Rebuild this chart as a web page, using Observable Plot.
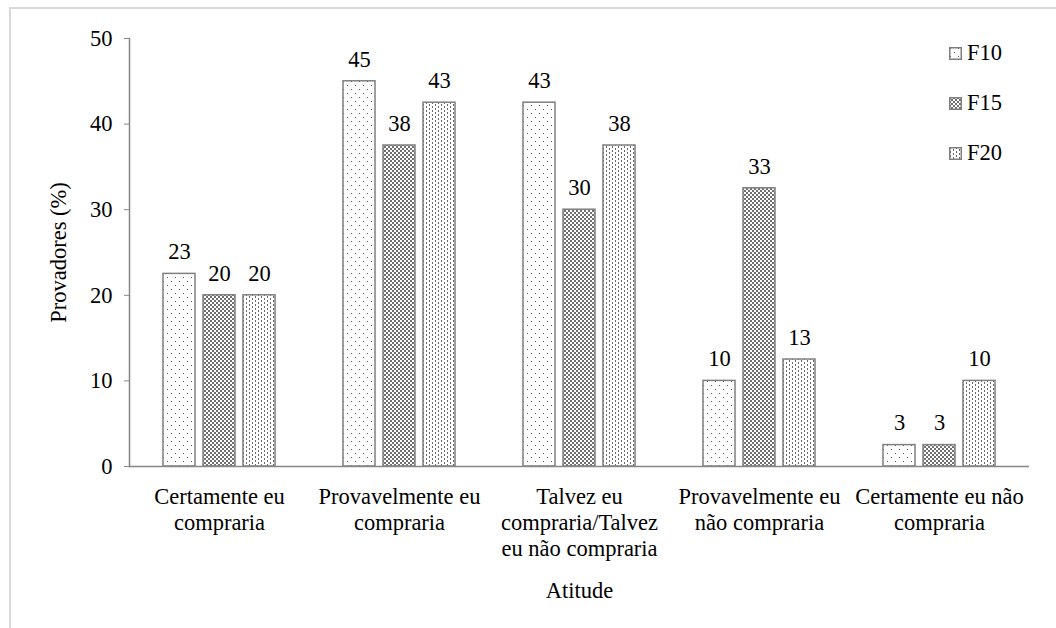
<!DOCTYPE html>
<html><head><meta charset="utf-8">
<script src="https://cdn.jsdelivr.net/npm/d3@7"></script>
<script src="https://cdn.jsdelivr.net/npm/@observablehq/plot@0.6"></script>
<style>
html,body{margin:0;padding:0;background:#fff;overflow:hidden;width:1056px;height:628px}
#wrap{position:relative;width:1056px;height:628px;overflow:hidden}
#border{position:absolute;left:9px;top:7px;width:1200px;height:800px;border:2px solid #d9d9d9;box-sizing:border-box}
#chart{position:absolute;left:0;top:0}
#chart svg, #chart svg text{font-family:"Liberation Serif","Times New Roman",serif}
#legend{position:absolute;left:949px;top:40px;font-family:"Liberation Serif","Times New Roman",serif;font-size:22.5px;color:#000}
.item{display:flex;align-items:center;height:26px;margin-bottom:24px}
.item span{margin-left:5px}
</style>
</head><body>
<svg width="0" height="0" style="position:absolute">
<defs>
<pattern id="p10" width="8" height="8" patternUnits="userSpaceOnUse">
<rect width="8" height="8" fill="#fff"/>
<rect x="1" y="1" width="1" height="1" fill="#555"/>
<rect x="5" y="5" width="1" height="1" fill="#555"/>
</pattern>
<pattern id="p15" width="4" height="4" patternUnits="userSpaceOnUse">
<rect width="4" height="4" fill="#fff"/>
<rect width="2" height="2" fill="#707070"/>
<rect x="2" y="2" width="2" height="2" fill="#707070"/>
</pattern>
<pattern id="p20" width="6" height="4" patternUnits="userSpaceOnUse">
<rect width="6" height="4" fill="#fff"/>
<rect x="1" y="0" width="1" height="2" fill="#666"/>
<rect x="4" y="2" width="1" height="2" fill="#666"/>
</pattern>
</defs></svg>
<div id="wrap">
<div id="border"></div>
<div id="chart"></div>
<div id="legend"></div>
</div>
<script>
const categories = ["Certamente eu compraria", "Provavelmente eu compraria", "Talvez eu compraria/Talvez eu não compraria", "Provavelmente eu não compraria", "Certamente eu não compraria"];
const tickLabels = ["Certamente eu\ncompraria", "Provavelmente eu\ncompraria", "Talvez eu\ncompraria/Talvez\neu não compraria", "Provavelmente eu\nnão compraria", "Certamente eu não\ncompraria"];
const series = ["F10", "F15", "F20"];
const f10 = [22.5, 45, 42.5, 10, 2.5];
const f15 = [20, 37.5, 30, 32.5, 2.5];
const f20 = [20, 42.5, 37.5, 12.5, 10];
const yTicks = [0, 10, 20, 30, 40, 50];
const patterns = ["url(#p10)", "url(#p15)", "url(#p20)"];

const values = [f10, f15, f20];
const data = [];
categories.forEach((c, i) => series.forEach((s, j) => data.push({cat: c, s, v: values[j][i]})));

const FS = 22.5;
const chart = Plot.plot({
  width: 1056, height: 628,
  marginLeft: 127, marginRight: 26, marginTop: 38, marginBottom: 162,
  style: {fontFamily: "Liberation Serif", fontSize: FS + "px", color: "#000", background: "transparent"},
  fx: {domain: categories, padding: 0},
  x: {domain: series, paddingInner: 0.2, paddingOuter: 0.8, axis: null},
  y: {domain: [0, 50]},
  color: {domain: series, range: patterns},
  marks: [
    Plot.barY(data, {fx: "cat", x: "s", y: "v", fill: "s", stroke: "#7f7f7f", strokeWidth: 1.5}),
    Plot.text(data, {fx: "cat", x: "s", y: "v", text: d => String(Math.round(d.v)), dy: -22, fontSize: FS, fill: "#000"}),
    Plot.ruleY([0], {stroke: "#868686", strokeWidth: 1.5}),
    Plot.frame({anchor: "left", facetAnchor: "left", stroke: "#868686", strokeWidth: 1.5}),
    Plot.axisY({ticks: yTicks, tickSize: 5, tickPadding: 12, stroke: "#868686", fontSize: FS, label: "Provadores (%)", labelAnchor: "center", labelOffset: 79, labelArrow: "none"}),
    Plot.axisFx({anchor: "bottom", tickSize: 0, tickPadding: 19, fontSize: FS, lineHeight: 1.16, tickFormat: d => tickLabels[categories.indexOf(d)], label: "Atitude", labelAnchor: "center", labelOffset: 131, labelArrow: "none"})
  ]
});
document.getElementById("chart").appendChild(chart);

const legend = document.getElementById("legend");
series.forEach((s, i) => {
  const item = document.createElement("div");
  item.className = "item";
  item.innerHTML = `<svg width="13" height="13"><rect x="0.75" y="0.75" width="11.5" height="11.5" fill="${patterns[i]}" stroke="#7f7f7f" stroke-width="1.5"/></svg><span>${s}</span>`;
  legend.appendChild(item);
});
</script>
</body></html>
